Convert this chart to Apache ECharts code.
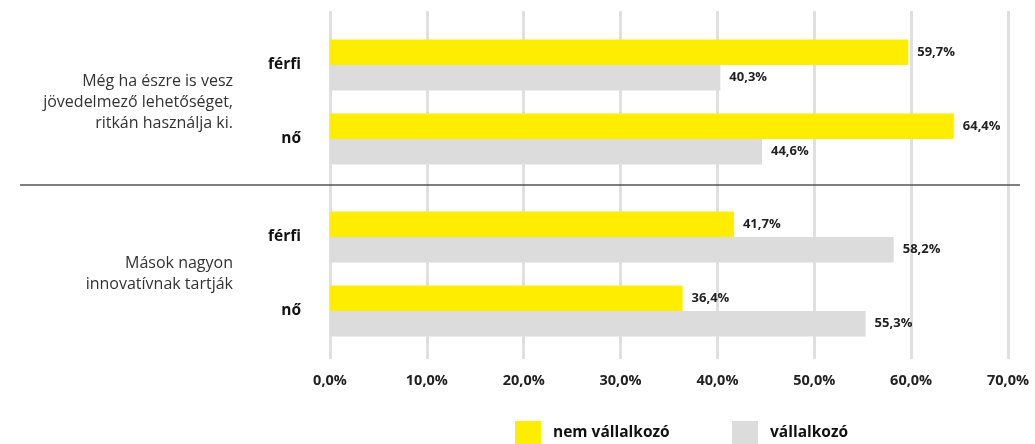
<!DOCTYPE html>
<html>
<head>
<meta charset="utf-8">
<script src="https://cdn.jsdelivr.net/npm/echarts@6/dist/echarts.min.js"></script>
<style>
  html, body { margin: 0; padding: 0; background: #fff; }
  #chart { width: 1035px; height: 444px; }
</style>
</head>
<body>
<div id="chart"></div>
<script>
// Statements (one per block) and the gender rows inside each block
const groups = ['Még ha észre is vesz\njövedelmező lehetőséget,\nritkán használja ki.', 'Mások nagyon\ninnovatívnak tartják'];
const genders = ['férfi', 'nő'];
const seriesNames = ['nem vállalkozó', 'vállalkozó'];

// Percentages per block: [férfi, nő]
const nemVallalkozo = [[59.7, 64.4], [41.7, 36.4]];
const vallalkozo = [[40.3, 44.6], [58.2, 55.3]];

const axisMin = 0, axisMax = 70, axisStep = 10;

const YELLOW = '#FFED00';
const GREY = '#DCDCDC';
const FONT = '"Open Sans", "Noto Sans", sans-serif';

const pct = v => v.toFixed(1).replace('.', ',') + '%';

const chart = echarts.init(document.getElementById('chart'), null, { renderer: 'canvas' });

const gridLeft = 330, gridRight = 27;
const blockTops = [28, 200];
const blockHeight = 148;

const grids = [{ left: gridLeft, right: gridRight, top: 11, bottom: 85 }];
const xAxes = [{
  gridIndex: 0, type: 'value', min: axisMin, max: axisMax, interval: axisStep,
  axisLine: { show: false }, axisTick: { show: false },
  splitLine: { show: true, lineStyle: { color: '#E0E0E0', width: 3 } },
  axisLabel: {
    formatter: pct, margin: 14, color: '#222', fontSize: 14.5, fontWeight: 'bold', fontFamily: FONT
  }
}];
const yAxes = [{ gridIndex: 0, type: 'category', data: [''], show: false }];
const series = [];

groups.forEach((g, i) => {
  const gi = i + 1;
  grids.push({ left: gridLeft, right: gridRight, top: blockTops[i], height: blockHeight });
  xAxes.push({ gridIndex: gi, type: 'value', min: axisMin, max: axisMax, show: false, splitLine: { show: false } });
  // gender labels next to the bars
  yAxes.push({
    gridIndex: gi, type: 'category', data: genders, inverse: true,
    axisLine: { show: false }, axisTick: { show: false },
    axisLabel: { margin: 29, color: '#111', fontSize: 15.5, fontWeight: 'bold', fontFamily: FONT }
  });
  // block statement further left
  yAxes.push({
    gridIndex: gi, type: 'category', data: [g], position: 'left', offset: 0,
    axisLine: { show: false }, axisTick: { show: false }, splitLine: { show: false },
    axisLabel: { margin: 97, color: '#333', fontSize: 16, lineHeight: 21, fontFamily: FONT, align: 'right' }
  });
  const yIdx = yAxes.length - 2;
  [[nemVallalkozo[i], YELLOW, seriesNames[0]], [vallalkozo[i], GREY, seriesNames[1]]].forEach(([vals, color, name]) => {
    series.push({
      name, type: 'bar', xAxisIndex: gi, yAxisIndex: yIdx,
      data: vals, barGap: '0%', barCategoryGap: '31%',
      itemStyle: { color },
      label: {
        show: true, position: 'right', distance: 9, formatter: p => pct(p.value),
        color: '#222', fontSize: 13, fontWeight: 'bold', fontFamily: FONT
      },
      emphasis: { disabled: true }
    });
  });
});

const legendBase = {
  top: 421, itemWidth: 26, itemHeight: 23, icon: 'rect', padding: 0,
  textStyle: { color: '#111', fontSize: 15.5, fontWeight: 'bold', fontFamily: FONT, padding: [0, 0, 0, 7] }
};

chart.setOption({
  animation: false,
  grid: grids,
  xAxis: xAxes,
  yAxis: yAxes,
  legend: [
    Object.assign({ left: 515, data: [seriesNames[0]] }, legendBase),
    Object.assign({ left: 732, data: [seriesNames[1]] }, legendBase)
  ],
  series,
  graphic: [{
    type: 'line', z: 100,
    shape: { x1: 20, y1: 185, x2: 1020, y2: 185 },
    style: { stroke: '#555', lineWidth: 1.5 }
  }]
});
</script>
</body>
</html>
